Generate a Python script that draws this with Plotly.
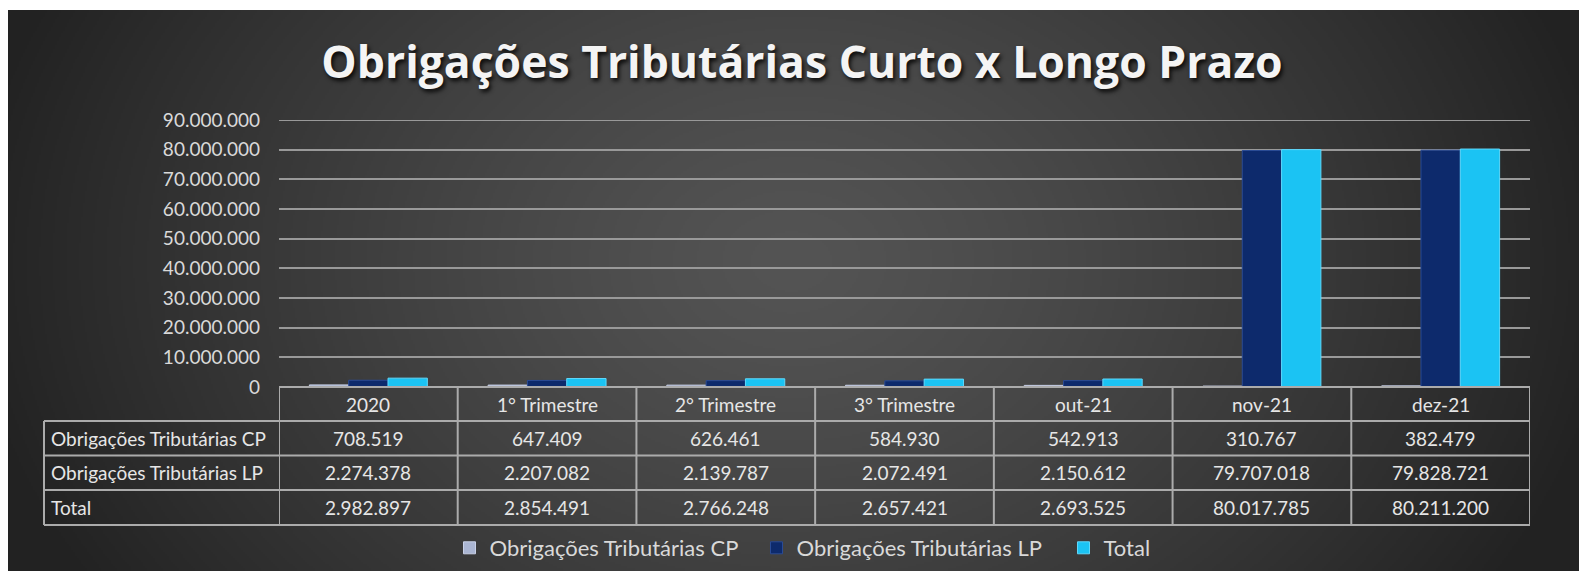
import base64
import struct
import zlib

import numpy as np
import plotly.graph_objects as go

# ---------------- data ----------------
categories = ["2020", "1° Trimestre", "2° Trimestre", "3° Trimestre", "out-21", "nov-21", "dez-21"]
series_names = ["Obrigações Tributárias CP", "Obrigações Tributárias LP", "Total"]
cp_values = [708519, 647409, 626461, 584930, 542913, 310767, 382479]
lp_values = [2274378, 2207082, 2139787, 2072491, 2150612, 79707018, 79828721]
total_values = [2982897, 2854491, 2766248, 2657421, 2693525, 80017785, 80211200]
y_ticks = [0, 10000000, 20000000, 30000000, 40000000, 50000000, 60000000, 70000000, 80000000, 90000000]
title_text = "Obrigações Tributárias Curto x Longo Prazo"

series_values = [cp_values, lp_values, total_values]
series_colors = ["#aab5d2", "#0d2a6c", "#1bc3f3"]
series_lines = ["#c8d0e6", "#2a4b95", "#5fd8fb"]

# ---------------- geometry (pixels) ----------------
W, H = 1579, 571
PL, PR, PT, PB = 279, 1530, 120, 387          # plot area
TABLE_LEFT = 44
ROW_LINES = [387, 421, 455.5, 490, 525]       # table horizontal lines
BG_X0, BG_Y0 = 8, 10                          # dark panel origin


def px(X):
    return (X - PL) / (PR - PL)


def py(Y):
    return (PB - Y) / (PB - PT)


def fmt(v):
    return f"{v:,}".replace(",", ".")


# ---------------- background gradient image ----------------
def png_data_uri(arr):
    h, w, _ = arr.shape
    raw = b"".join(b"\x00" + arr[r].tobytes() for r in range(h))

    def chunk(tag, data):
        return (struct.pack(">I", len(data)) + tag + data
                + struct.pack(">I", zlib.crc32(tag + data) & 0xFFFFFFFF))

    ihdr = struct.pack(">IIBBBBB", w, h, 8, 2, 0, 0, 0)
    png = (b"\x89PNG\r\n\x1a\n" + chunk(b"IHDR", ihdr)
           + chunk(b"IDAT", zlib.compress(raw, 9)) + chunk(b"IEND", b""))
    return "data:image/png;base64," + base64.b64encode(png).decode()


gw, gh = (W - BG_X0) // 2, (H - BG_Y0) // 2
gx = np.arange(gw) * 2 + BG_X0
gy = np.arange(gh) * 2 + BG_Y0
XX, YY = np.meshgrid(gx, gy)
t = np.sqrt(((XX - 790) / 830.0) ** 2 + ((YY - 260) / 620.0) ** 2)
val = 84 - 50 * np.clip(t, 0, 1) ** 1.3
val = np.clip(val, 30, 90).astype(np.uint8)
img = np.stack([val, val, val], axis=-1)
bg_uri = png_data_uri(img)

# ---------------- figure ----------------
fig = go.Figure()
for name, vals, col, lc in zip(series_names, series_values, series_colors, series_lines):
    fig.add_trace(go.Bar(
        x=categories, y=vals, name=name,
        marker=dict(color=col, line=dict(color=lc, width=1)),
        hovertemplate="%{x}<br>%{y:,}<extra>" + name + "</extra>",
    ))

shapes = []
grid_style = dict(color="#999999", width=2)
# top gridline (plotly omits the gridline sitting on the range edge)
shapes.append(dict(type="line", xref="paper", yref="y", x0=0, x1=1,
                   y0=y_ticks[-1], y1=y_ticks[-1], line=grid_style, layer="below"))
line_style = dict(color="#ababab", width=2)
shapes.append(dict(type="line", xref="paper", yref="paper",
                   x0=px(PL), x1=px(PR), y0=py(ROW_LINES[0]), y1=py(ROW_LINES[0]), line=line_style))
for Y in ROW_LINES[1:]:
    shapes.append(dict(type="line", xref="paper", yref="paper",
                       x0=px(TABLE_LEFT), x1=px(PR), y0=py(Y), y1=py(Y), line=line_style))
shapes.append(dict(type="line", xref="paper", yref="paper",
                   x0=px(TABLE_LEFT), x1=px(TABLE_LEFT), y0=py(ROW_LINES[1]), y1=py(ROW_LINES[-1]),
                   line=line_style))
for k in range(len(categories) + 1):
    shapes.append(dict(type="line", xref="x", yref="paper",
                       x0=k - 0.5, x1=k - 0.5, y0=py(ROW_LINES[0]), y1=py(ROW_LINES[-1]),
                       line=line_style))

annotations = []
cell_font = dict(family="Lato", size=19, color="#e6e6e6")
hy = py((ROW_LINES[0] + ROW_LINES[1]) / 2)
for k, c in enumerate(categories):
    annotations.append(dict(x=k, y=hy, xref="x", yref="paper", text=c, showarrow=False,
                            xanchor="center", yanchor="middle", font=cell_font))
for r, (name, vals) in enumerate(zip(series_names, series_values)):
    yc = py((ROW_LINES[r + 1] + ROW_LINES[r + 2]) / 2)
    annotations.append(dict(x=px(TABLE_LEFT + 5), y=yc, xref="paper", yref="paper", text=name,
                            showarrow=False, xanchor="left", yanchor="middle", font=cell_font))
    for k, v in enumerate(vals):
        annotations.append(dict(x=k, y=yc, xref="x", yref="paper", text=fmt(v), showarrow=False,
                                xanchor="center", yanchor="middle", font=cell_font))

fig.update_layout(
    width=W, height=H,
    margin=dict(l=PL, r=W - PR, t=PT, b=H - PB, pad=0, autoexpand=False),
    paper_bgcolor="white",
    plot_bgcolor="rgba(0,0,0,0)",
    separators=",.",
    barmode="group",
    bargap=0.34,
    bargroupgap=0,
    title=dict(
        text=title_text, x=802 / W, y=1 - 62 / H, xanchor="center", yanchor="middle",
        xref="container", yref="container",
        font=dict(family="Open Sans", size=44.5, color="#f4f4f4", weight="bold",
                  shadow="2px 3px 4px rgba(0,0,0,0.85)"),
    ),
    xaxis=dict(type="category", range=[-0.5, len(categories) - 0.5], showticklabels=False,
               showgrid=False, zeroline=False, showline=False, fixedrange=True),
    yaxis=dict(range=[0, 90000000], tickvals=y_ticks, ticktext=[fmt(v) for v in y_ticks],
               showgrid=True, gridcolor="#999999", gridwidth=2, zeroline=False,
               showline=False, ticks="", ticklabelstandoff=18,
               tickfont=dict(family="Lato", size=19, color="#d9d9d9"), fixedrange=True),
    legend=dict(orientation="h", x=px(910), y=py(548), xanchor="center", yanchor="middle",
                entrywidth=262, entrywidthmode="pixels",
                font=dict(family="Lato", size=22, color="#d9d9d9"),
                bgcolor="rgba(0,0,0,0)", itemclick=False, itemdoubleclick=False),
    shapes=shapes,
    annotations=annotations,
    images=[dict(source=bg_uri, xref="paper", yref="paper",
                 x=px(BG_X0), y=py(BG_Y0), sizex=(W - BG_X0) / (PR - PL),
                 sizey=(H - BG_Y0) / (PB - PT),
                 xanchor="left", yanchor="top", sizing="stretch", layer="below")],
)

fig.write_html(
    "out.html",
    config={"displayModeBar": False},
    post_script="document.body.style.margin='0';document.body.style.overflow='hidden';",
)
